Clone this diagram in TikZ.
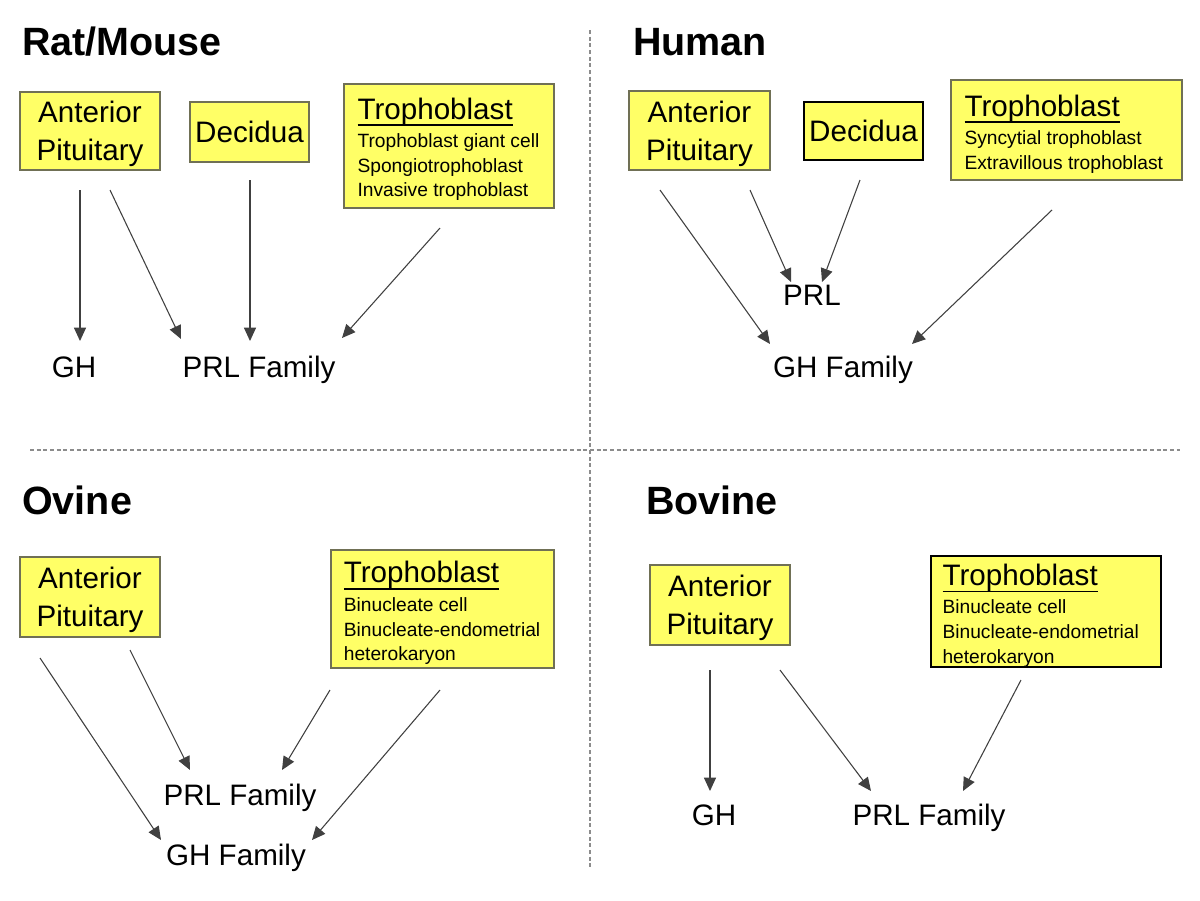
\documentclass[tikz,border=0pt]{standalone}
\usepackage{fontspec}
\setmainfont{Liberation Sans}
\usetikzlibrary{arrows.meta}
\definecolor{boxfill}{HTML}{FFFF66}
\definecolor{boxline}{HTML}{707055}
\tikzset{
  x=0.75pt, y=-0.75pt,
  sp/.style={draw=boxline, fill=boxfill, line width=1.1pt, inner sep=0pt, align=center,
    text depth=0pt, font=\fontsize{22.2}{28.5}\selectfont},
  tbox/.style={draw=boxline, fill=boxfill, line width=1.1pt, inner sep=0pt},
  ttext/.style={anchor=west, inner sep=0pt, align=left, text depth=0pt, yshift=-1.5pt,
    font=\fontsize{14.4}{18.4}\selectfont},
  ttl/.style={anchor=west, inner sep=0pt, font=\bfseries\fontsize{29.6}{32}\selectfont},
  lbl/.style={inner sep=0pt, text depth=0pt, font=\fontsize{22.2}{26}\selectfont},
  arr/.style={draw=black!75, line width=0.8pt, -{Triangle[length=10pt,width=9pt]}},
  sep/.style={draw=black!45, line width=1pt, dash pattern=on 3pt off 2pt}
}
\newcommand{\bigline}[1]{{\fontsize{22.2}{24}\selectfont\setbox0\hbox{#1}\rlap{\rule[-5pt]{\wd0}{1.1pt}}\box0}}
\begin{document}
\begin{tikzpicture}
\useasboundingbox (0,0) rectangle (1200,900);
\fill[white] (0,0) rectangle (1200,900);
% separators
\coordinate (vt) at (590,30); \coordinate (vb) at (590,868);
\coordinate (hl) at (30,450); \coordinate (hr) at (1180,450);
\draw[sep] (vt) -- (vb);
\draw[sep] (hl) -- (hr);

% ---------- Rat/Mouse ----------
\node[ttl] (t1) at (22,42) {Rat/Mouse};
\node[sp, minimum width=105pt, minimum height=58.5pt] (ap1) at (90,131) {Anterior\\Pituitary};
\node[sp, minimum width=89pt, minimum height=45pt] (de1) at (249.5,132) {Decidua};
\node[tbox, minimum width=157.5pt, minimum height=93pt] (tr1) at (449,146) {};
\node[ttext, yshift=0.5pt] (tt1) at ([xshift=10.5pt]tr1.west)
  {\bigline{Trophoblast}\\[3pt]Trophoblast giant cell\\Spongiotrophoblast\\Invasive trophoblast};
\node[lbl] (gh1) at (74,367) {GH};
\node[lbl] (prl1) at (259,367) {PRL Family};
\coordinate (a1s) at (80,190); \coordinate (a1e) at (80,341);
\coordinate (a2s) at (110,190); \coordinate (a2e) at (181,339);
\coordinate (a3s) at (250,180); \coordinate (a3e) at (250,341);
\coordinate (a4s) at (440,228); \coordinate (a4e) at (342,338);
\draw[arr] (a1s) -- (a1e);
\draw[arr] (a2s) -- (a2e);
\draw[arr] (a3s) -- (a3e);
\draw[arr] (a4s) -- (a4e);

% ---------- Human ----------
\node[ttl] (t2) at (633,42) {Human};
\node[sp, minimum width=105.75pt, minimum height=59.25pt] (ap2) at (699.5,130.5) {Anterior\\Pituitary};
\node[sp, draw=black, minimum width=89pt, minimum height=43.5pt] (de2) at (863.5,131) {Decidua};
\node[tbox, minimum width=173.25pt, minimum height=75pt] (tr2) at (1066.5,130) {};
\node[ttext] (tt2) at ([xshift=10.5pt]tr2.west)
  {\bigline{Trophoblast}\\[3pt]Syncytial trophoblast\\Extravillous trophoblast};
\node[lbl] (prl2) at (812,295) {PRL};
\node[lbl] (gh2) at (843,367) {GH Family};
\coordinate (b1s) at (660,190); \coordinate (b1e) at (770,344);
\coordinate (b2s) at (750,190); \coordinate (b2e) at (791,282);
\coordinate (b3s) at (860,180); \coordinate (b3e) at (822,282);
\coordinate (b4s) at (1052,210); \coordinate (b4e) at (912,344);
\draw[arr] (b1s) -- (b1e);
\draw[arr] (b2s) -- (b2e);
\draw[arr] (b3s) -- (b3e);
\draw[arr] (b4s) -- (b4e);

% ---------- Ovine ----------
\node[ttl] (t3) at (22,500) {Ovine};
\node[sp, minimum width=105pt, minimum height=60pt] (ap3) at (90,597) {Anterior\\Pituitary};
\node[tbox, minimum width=167.25pt, minimum height=88.5pt] (tr3) at (442.5,609) {};
\node[ttext] (tt3) at ([xshift=10pt]tr3.west)
  {\bigline{Trophoblast}\\[3pt]Binucleate cell\\Binucleate-endometrial\\heterokaryon};
\node[lbl] (prl3) at (240,795) {PRL Family};
\node[lbl] (gh3) at (236,855) {GH Family};
\coordinate (c1s) at (40,658); \coordinate (c1e) at (161,840);
\coordinate (c2s) at (130,650); \coordinate (c2e) at (190,770);
\coordinate (c3s) at (330,690); \coordinate (c3e) at (282,770);
\coordinate (c4s) at (440,690); \coordinate (c4e) at (312,840);
\draw[arr] (c1s) -- (c1e);
\draw[arr] (c2s) -- (c2e);
\draw[arr] (c3s) -- (c3e);
\draw[arr] (c4s) -- (c4e);

% ---------- Bovine ----------
\node[ttl] (t4) at (646,500) {Bovine};
\node[sp, minimum width=105pt, minimum height=60pt] (ap4) at (720,605) {Anterior\\Pituitary};
\node[tbox, draw=black, minimum width=172.5pt, minimum height=83.25pt] (tr4) at (1046,611.5) {};
\node[ttext] (tt4) at ([xshift=9pt]tr4.west)
  {\bigline{Trophoblast}\\[3pt]Binucleate cell\\Binucleate-endometrial\\heterokaryon};
\node[lbl] (gh4) at (714,815) {GH};
\node[lbl] (prl4) at (929,815) {PRL Family};
\coordinate (d1s) at (710,670); \coordinate (d1e) at (710,791);
\coordinate (d2s) at (780,670); \coordinate (d2e) at (871,791);
\coordinate (d3s) at (1021,680); \coordinate (d3e) at (963,791);
\draw[arr] (d1s) -- (d1e);
\draw[arr] (d2s) -- (d2e);
\draw[arr] (d3s) -- (d3e);
\end{tikzpicture}
\end{document}
